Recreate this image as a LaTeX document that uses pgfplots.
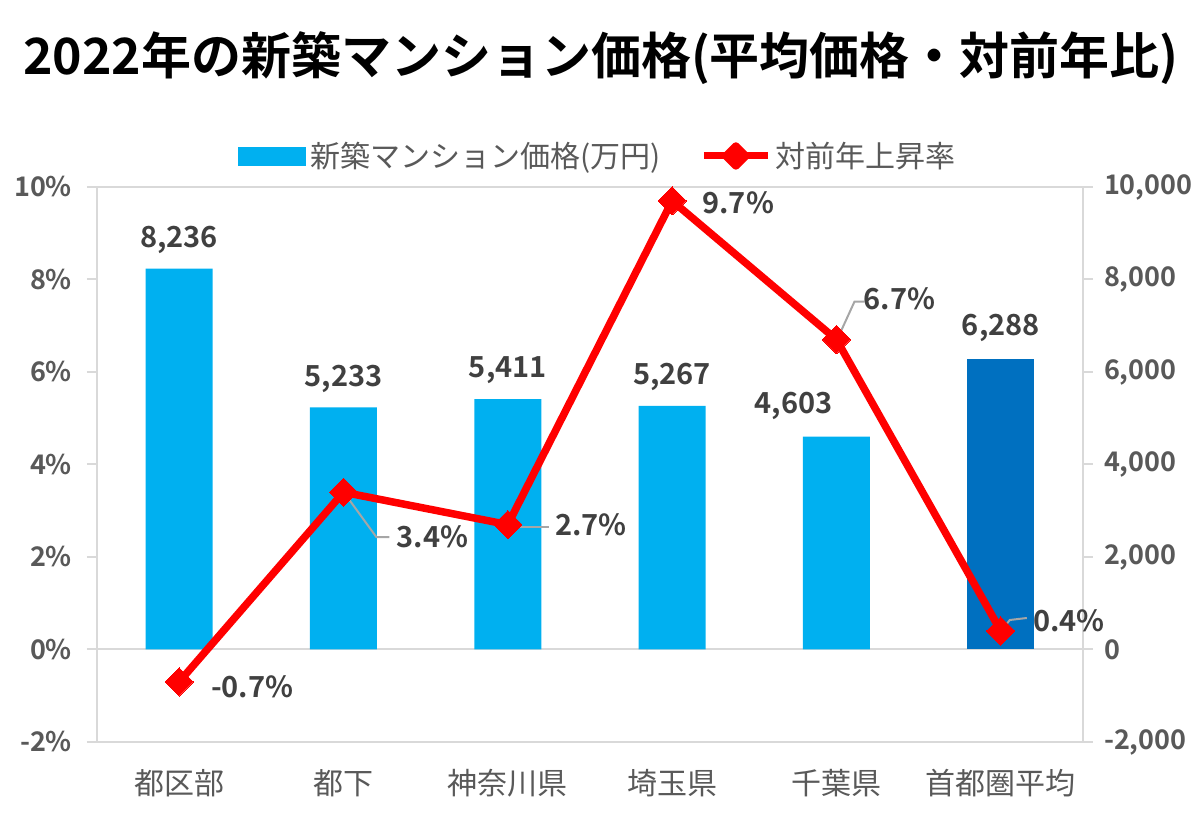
\documentclass[border=0pt]{standalone}
\usepackage{fontspec}
\setmainfont{Noto Sans CJK JP}[BoldFont={Noto Sans CJK JP Bold}]
\usepackage{pgfplots}
\pgfplotsset{compat=1.18}
\definecolor{barblue}{HTML}{00B0F0}
\definecolor{bardark}{HTML}{0070C0}
\definecolor{axgray}{HTML}{D9D9D9}
\definecolor{txtgray}{HTML}{595959}
\definecolor{lblgray}{HTML}{404040}
\definecolor{leadgray}{HTML}{A6A6A6}
\tikzset{dlabel/.style={font=\fontsize{14.5}{17}\selectfont\bfseries, text=lblgray, inner sep=0pt}}
\begin{document}
\begin{tikzpicture}
\path[use as bounding box] (0,0) rectangle (600.5pt,411pt);
\node[font=\fontsize{25}{30}\selectfont\bfseries, text=black, inner sep=0pt] at (300.5pt,382pt) {2022年の新築マンション価格(平均価格・対前年比)};

% bars on the right axis
\begin{axis}[at={(48.5pt,40pt)}, anchor=south west, scale only axis,
  width=493pt, height=277.5pt,
  xmin=-0.5, xmax=5.5, ymin=-2000, ymax=10000,
  axis x line=none, axis y line*=right,
  axis line style={axgray, line width=1pt},
  ytick={-2000,0,2000,4000,6000,8000,10000},
  scaled y ticks=false,
  tick align=outside, major tick length=5pt,
  y tick style={axgray, line width=1pt},
  /pgf/number format/assume math mode=true,
  /pgf/number format/1000 sep={,},
  yticklabel style={font=\fontsize{13.5}{16}\selectfont\bfseries, text=txtgray, xshift=2pt},
  ybar, bar width=33.5pt, bar shift=0pt,
  clip=false]
\draw[axgray, line width=1pt] (axis cs:-0.5,0) -- (axis cs:5.5,0);
\addplot[fill=barblue, draw=none] coordinates {(0,8236) (1,5233) (2,5411) (3,5267) (4,4603)};
\addplot[fill=bardark, draw=none] coordinates {(5,6288)};
\node[dlabel, yshift=14.5pt] at (axis cs:0,8236) {8,236};
\node[dlabel, yshift=14.5pt] at (axis cs:1,5233) {5,233};
\node[dlabel, yshift=14.5pt] at (axis cs:2,5411) {5,411};
\node[dlabel, yshift=14.5pt] at (axis cs:3,5267) {5,267};
\node[dlabel, xshift=-21.5pt, yshift=15.5pt] at (axis cs:4,4603) {4,603};
\node[dlabel, yshift=15.5pt] at (axis cs:5,6288) {6,288};
\end{axis}

% line on the left axis
\begin{axis}[at={(48.5pt,40pt)}, anchor=south west, scale only axis,
  width=493pt, height=277.5pt,
  xmin=-0.5, xmax=5.5, ymin=-2, ymax=10,
  axis line style={axgray, line width=1pt},
  ytick={-2,0,2,4,6,8,10}, ytick pos=left,
  yticklabel={\pgfmathprintnumber{\tick}\%},
  tick align=outside, major tick length=5pt,
  y tick style={axgray, line width=1pt},
  xtick={0,1,2,3,4,5}, xtick style={draw=none},
  xticklabels={都区部,都下,神奈川県,埼玉県,千葉県,首都圏平均},
  xticklabel style={font=\fontsize{15}{18}\selectfont, text=txtgray, yshift=-5pt},
  /pgf/number format/assume math mode=true,
  yticklabel style={font=\fontsize{13.5}{16}\selectfont\bfseries, text=txtgray, xshift=-4pt},
  legend style={at={(0.509,1)}, anchor=center, yshift=15.5pt, draw=none, fill=none,
    legend columns=2, font=\fontsize{15}{18}\selectfont, text=txtgray,
    /tikz/every even column/.append style={column sep=18pt}},
  legend cell align=left,
  clip=false]
\addlegendimage{legend image code/.code={\fill[barblue] (0pt,-4.5pt) rectangle (33.5pt,4.5pt);}}
\addlegendentry{新築マンション価格(万円)}
\addplot[color=red, line width=3.75pt, line join=round,
  mark=square*, mark size=5pt, mark options={rotate=45, solid, line width=0pt, fill=red},
  legend image code/.code={\draw[red, line width=3.5pt] (0pt,0pt) -- (32pt,0pt);
    \fill[red] (16pt,5pt) -- (21pt,0pt) -- (16pt,-5pt) -- (11pt,0pt) -- cycle;}]
  coordinates {(0,-0.7) (1,3.4) (2,2.7) (3,9.7) (4,6.7) (5,0.4)};
\addlegendentry{対前年上昇率}
% leader lines
\draw[leadgray, line width=1pt] (axis cs:1,3.4) ++(0.5pt,-0.5pt) -- ++(16pt,-22pt) -- ++(6.5pt,0pt);
\draw[leadgray, line width=1pt] (axis cs:2,2.7) ++(0.5pt,-1pt) -- ++(20pt,0pt);
\draw[leadgray, line width=1pt] (axis cs:4,6.7) ++(1pt,1.5pt) -- ++(8pt,17.5pt) -- ++(5pt,0pt);
\draw[leadgray, line width=1pt] (axis cs:5,0.4) ++(0.5pt,0.5pt) -- ++(4pt,5pt) -- ++(8.5pt,1pt);
% data labels
\node[dlabel, xshift=36.5pt, yshift=-2.5pt] at (axis cs:0,-0.7) {-0.7\%};
\node[dlabel, xshift=44.5pt, yshift=-22.5pt] at (axis cs:1,3.4) {3.4\%};
\node[dlabel, xshift=41.5pt, yshift=0pt] at (axis cs:2,2.7) {2.7\%};
\node[dlabel, xshift=33pt, yshift=-1pt] at (axis cs:3,9.7) {9.7\%};
\node[dlabel, xshift=31.5pt, yshift=20.5pt] at (axis cs:4,6.7) {6.7\%};
\node[dlabel, xshift=34pt, yshift=5pt] at (axis cs:5,0.4) {0.4\%};
\end{axis}
\end{tikzpicture}
\end{document}
